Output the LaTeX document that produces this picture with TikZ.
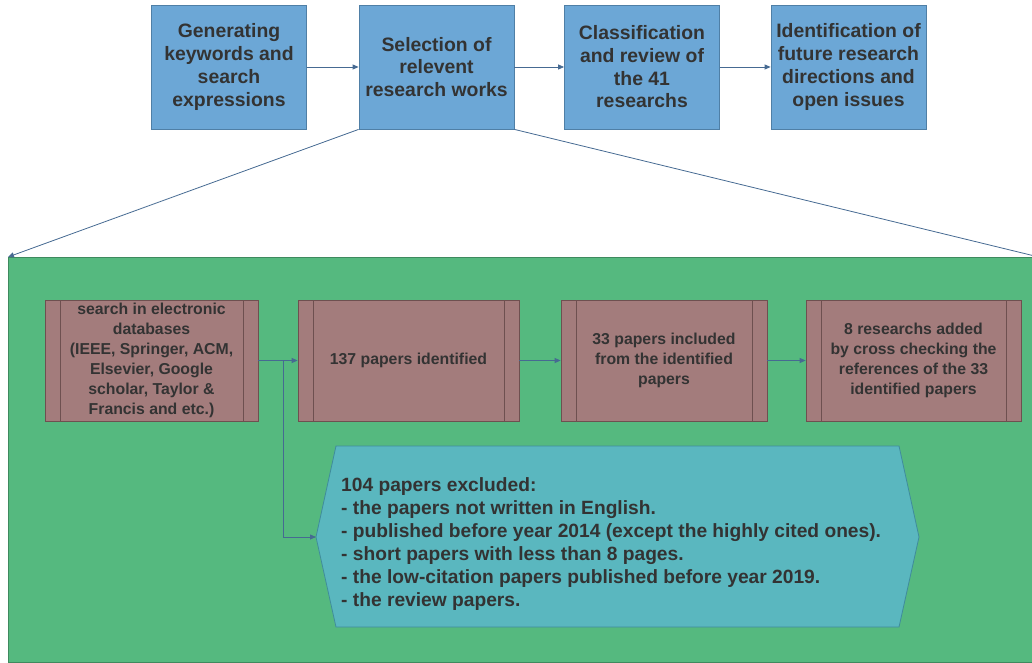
\documentclass[tikz,border=0pt]{standalone}
\usepackage{fontspec}
\setmainfont{Liberation Sans}
\usetikzlibrary{arrows.meta,calc}

\definecolor{stageblue}{HTML}{6CA7D6}
\definecolor{stageedge}{HTML}{4F7FA6}
\definecolor{panelgreen}{HTML}{55B97F}
\definecolor{paneledge}{HTML}{3E8A5E}
\definecolor{procfill}{HTML}{A37C7C}
\definecolor{procedge}{HTML}{6E5050}
\definecolor{hexfill}{HTML}{5AB7BF}
\definecolor{hexedge}{HTML}{3F8C9C}
\definecolor{linkcol}{HTML}{466A92}
\definecolor{txt}{HTML}{333333}

\tikzset{
  stage/.style={draw=stageedge, line width=0.8pt, fill=stageblue,
    minimum width=155pt, minimum height=124pt, align=center,
    text=txt, font=\fontsize{19.4}{22.7}\selectfont\bfseries, inner sep=1pt},
  proc/.style={draw=procedge, line width=0.8pt, fill=procfill,
    minimum height=121pt, align=center, text=txt,
    font=\fontsize{15.8}{20}\selectfont\bfseries, inner sep=1pt,
    path picture={
      \draw[procedge, line width=0.8pt]
        ([xshift=15pt]path picture bounding box.north west) --
        ([xshift=15pt]path picture bounding box.south west)
        ([xshift=-15pt]path picture bounding box.north east) --
        ([xshift=-15pt]path picture bounding box.south east);
    }},
  link/.style={draw=linkcol, line width=0.8pt,
    -{Triangle[length=6pt,width=5pt]}},
}

\begin{document}
\begin{tikzpicture}[x=1pt,y=-1pt]
\clip (0,0) rectangle (1032,663);
\useasboundingbox (0,0) rectangle (1032,663);

% top-level workflow
\node[stage] (kw)   at (229,67)   {Generating\\keywords and\\search\\expressions};
\node[stage] (sel)  at (436.5,67) {Selection of\\relevent\\research works};
\node[stage] (cls)  at (642,67)   {Classification\\and review of\\the 41\\researchs};
\node[stage] (fut)  at (848.5,67) {Identification of\\future research\\directions and\\open issues};

\draw[link] (kw.east)  -- (sel.west);
\draw[link] (sel.east) -- (cls.west);
\draw[link] (cls.east) -- (fut.west);

% detail panel for the selection step
\node[draw=paneledge, line width=0.8pt, fill=panelgreen, anchor=north west,
      minimum width=1030pt, minimum height=405pt, inner sep=0pt] (panel) at (8,257) {};

\draw[link] (sel.south west) -- (panel.north west);
\draw[link] (sel.south east) -- (panel.north east);

% selection process boxes
\node[proc, minimum width=213pt] (srch) at (151.5,360.5)
  {search in electronic\\databases\\(IEEE, Springer, ACM,\\Elsevier, Google\\scholar, Taylor \&\\Francis and etc.)};
\node[proc, minimum width=221pt] (idn)  at (408.5,360.5) {137 papers identified};
\node[proc, minimum width=206pt] (inc)  at (664,360.5)   {33 papers included\\from the identified\\papers};
\node[proc, minimum width=215pt] (add)  at (913.5,360.5) {8 researchs added\\by cross checking the\\references of the 33\\identified papers};

% exclusion criteria
\draw[draw=hexedge, line width=0.8pt, fill=hexfill]
  (316,537) -- (336,446) -- (899,446) -- (919,537) -- (899,627) -- (336,627) -- cycle;
\coordinate (hextip) at (316,537);
\node[anchor=west, align=left, text=txt, inner sep=0pt,
      font=\fontsize{19.2}{23}\selectfont\bfseries] (excl) at (341,544)
  {104 papers excluded:\\
   - the papers not written in English.\\
   - published before year 2014 (except the highly cited ones).\\
   - short papers with less than 8 pages.\\
   - the low-citation papers published before year 2019.\\
   - the review papers.};

\coordinate (split) at ($(srch.east)!0.625!(idn.west)$);
\draw[link] (srch.east) -- (idn.west);
\draw[link] (split) |- (hextip);
\draw[link] (idn.east) -- (inc.west);
\draw[link] (inc.east) -- (add.west);
\end{tikzpicture}
\end{document}
